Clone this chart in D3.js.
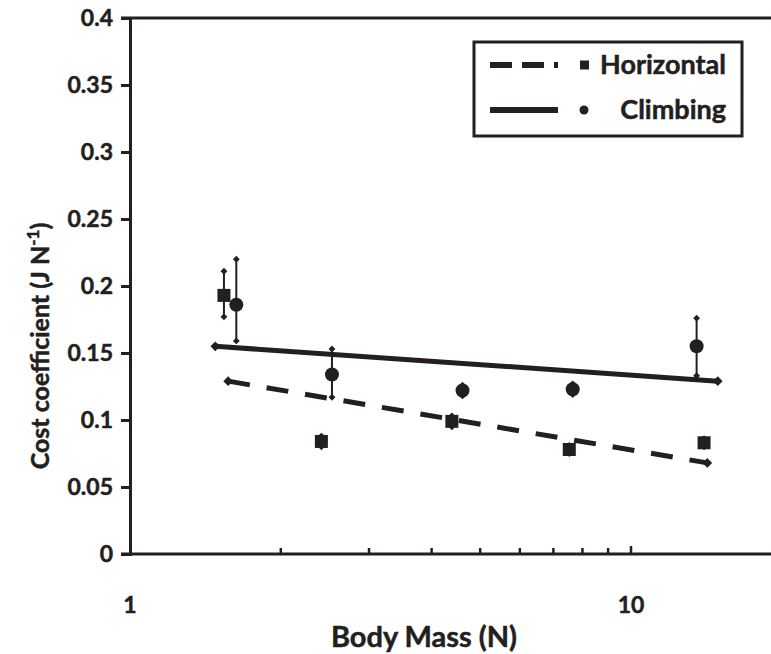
<!DOCTYPE html>
<html>
<head>
<meta charset="utf-8">
<script src="https://cdn.jsdelivr.net/npm/d3@7"></script>
<style>
  body { margin: 0; background: #fff; }
  text { font-family: Lato, "Open Sans", sans-serif; font-weight: 700; fill: #231f20;
         stroke: #231f20; stroke-width: 0.5px; }
</style>
</head>
<body>
<svg id="chart"></svg>
<script>
// Horizontal running (squares)
const horizMass = [1.54, 2.41, 4.39, 7.53, 13.99];
const horizCost = [0.193, 0.084, 0.099, 0.078, 0.083];
const horizErrUp = [0.018, 0.004, 0.004, 0.003, 0.003];
const horizErrDown = [0.016, 0.004, 0.004, 0.003, 0.003];

// Climbing (circles)
const climbMass = [1.63, 2.53, 4.61, 7.65, 13.52];
const climbCost = [0.186, 0.134, 0.122, 0.123, 0.155];
const climbErrUp = [0.034, 0.019, 0.004, 0.004, 0.021];
const climbErrDown = [0.027, 0.017, 0.004, 0.004, 0.022];

// trend line end points [mass, cost]
const horizFit = [[1.57, 0.129], [14.2, 0.068]];
const climbFit = [[1.48, 0.155], [14.9, 0.129]];

const yTicks = [0, 0.05, 0.1, 0.15, 0.2, 0.25, 0.3, 0.35, 0.4];
const xTicks = [1, 10];
const xMinorTicks = [2, 3, 4, 5, 6, 7, 8, 9];
const legendLabels = ['Horizontal', 'Climbing'];

const width = 771, height = 654;
const ink = '#231f20';

const svg = d3.select('#chart')
  .attr('width', width)
  .attr('height', height);

// scales
const x = d3.scaleLog().domain([1, 20]).range([130, 130 + Math.log10(20) * 501]);
const y = d3.scaleLinear().domain([0, 0.4]).range([554, 18]);

// top frame line
svg.append('line')
  .attr('x1', 121).attr('x2', width)
  .attr('y1', y(0.4)).attr('y2', y(0.4))
  .attr('stroke', ink).attr('stroke-width', 3);

// y axis
const yAxis = svg.append('g')
  .attr('transform', 'translate(130,0)')
  .call(d3.axisLeft(y).tickValues(yTicks).tickSize(9).tickPadding(8)
    .tickFormat(d3.format('~g')));
yAxis.select('.domain').attr('stroke', ink).attr('stroke-width', 3);
yAxis.selectAll('.tick line').attr('stroke', ink).attr('stroke-width', 3);
yAxis.selectAll('.tick text').style('font-size', '23px').attr('fill', ink);

// x axis: line, minor ticks, labels
svg.append('line')
  .attr('x1', 121).attr('x2', width)
  .attr('y1', y(0)).attr('y2', y(0))
  .attr('stroke', ink).attr('stroke-width', 3);

svg.append('g')
  .selectAll('line')
  .data(xMinorTicks.concat([10]))
  .join('line')
  .attr('x1', d => x(d)).attr('x2', d => x(d))
  .attr('y1', y(0)).attr('y2', d => y(0) - (d === 10 ? 8 : 6))
  .attr('stroke', ink).attr('stroke-width', 2.5);

svg.append('g')
  .selectAll('text')
  .data(xTicks)
  .join('text')
  .attr('x', d => x(d))
  .attr('y', 613)
  .attr('text-anchor', 'middle')
  .style('font-size', '23px')
  .text(d => d);

// axis titles
svg.append('text')
  .attr('x', 424).attr('y', 647)
  .attr('text-anchor', 'middle')
  .style('font-size', '29px')
  .text('Body Mass (N)');

const yTitle = svg.append('text')
  .attr('transform', 'translate(49,346) rotate(-90)')
  .attr('text-anchor', 'middle')
  .style('font-size', '25px');
yTitle.append('tspan').text('Cost coefficient (J N');
yTitle.append('tspan').attr('dy', -10).style('font-size', '17px').text('-1');
yTitle.append('tspan').attr('dy', 10).text(')');

const diamond = d3.symbol().type(d3.symbolDiamond2);

// trend lines
function trend(pts, dash) {
  svg.append('line')
    .attr('x1', x(pts[0][0])).attr('y1', y(pts[0][1]))
    .attr('x2', x(pts[1][0])).attr('y2', y(pts[1][1]))
    .attr('stroke', ink).attr('stroke-width', 5)
    .attr('stroke-dasharray', dash);
  svg.append('g').selectAll('path')
    .data(pts)
    .join('path')
    .attr('transform', d => `translate(${x(d[0])},${y(d[1])})`)
    .attr('d', diamond.size(60))
    .attr('fill', ink);
}
trend(climbFit, null);
trend(horizFit, '22,17');

// error bars with diamond caps
function errorBars(mass, cost, up, down) {
  const g = svg.append('g');
  mass.forEach((m, i) => {
    const top = cost[i] + up[i], bot = cost[i] - down[i];
    g.append('line')
      .attr('x1', x(m)).attr('x2', x(m))
      .attr('y1', y(top)).attr('y2', y(bot))
      .attr('stroke', ink).attr('stroke-width', 2);
    [top, bot].forEach(v => {
      g.append('path')
        .attr('transform', `translate(${x(m)},${y(v)})`)
        .attr('d', diamond.size(30))
        .attr('fill', ink);
    });
  });
}
errorBars(horizMass, horizCost, horizErrUp, horizErrDown);
errorBars(climbMass, climbCost, climbErrUp, climbErrDown);

// markers
svg.append('g').selectAll('rect')
  .data(horizMass)
  .join('rect')
  .attr('x', d => x(d) - 6.5)
  .attr('y', (d, i) => y(horizCost[i]) - 6.5)
  .attr('width', 13).attr('height', 13)
  .attr('fill', ink);

svg.append('g').selectAll('circle')
  .data(climbMass)
  .join('circle')
  .attr('cx', d => x(d))
  .attr('cy', (d, i) => y(climbCost[i]))
  .attr('r', 7)
  .attr('fill', ink);

// legend
const legend = svg.append('g');
legend.append('rect')
  .attr('x', 474).attr('y', 42)
  .attr('width', 268).attr('height', 94)
  .attr('fill', '#fff')
  .attr('stroke', ink).attr('stroke-width', 3);

const rows = legend.selectAll('g.row')
  .data(legendLabels)
  .join('g')
  .attr('class', 'row')
  .attr('transform', (d, i) => `translate(0,${65 + i * 45})`);

rows.append('line')
  .attr('x1', 490).attr('x2', 558)
  .attr('stroke', ink).attr('stroke-width', 6)
  .attr('stroke-dasharray', (d, i) => i === 0 ? '22,10' : null);

rows.filter((d, i) => i === 0).append('rect')
  .attr('x', 580).attr('y', -4.5).attr('width', 9).attr('height', 9)
  .attr('fill', ink);
rows.filter((d, i) => i === 1).append('circle')
  .attr('cx', 584).attr('r', 4.5)
  .attr('fill', ink);

rows.append('text')
  .attr('x', 726).attr('dy', '0.35em')
  .attr('text-anchor', 'end')
  .style('font-size', '27px')
  .text(d => d);
</script>
</body>
</html>
